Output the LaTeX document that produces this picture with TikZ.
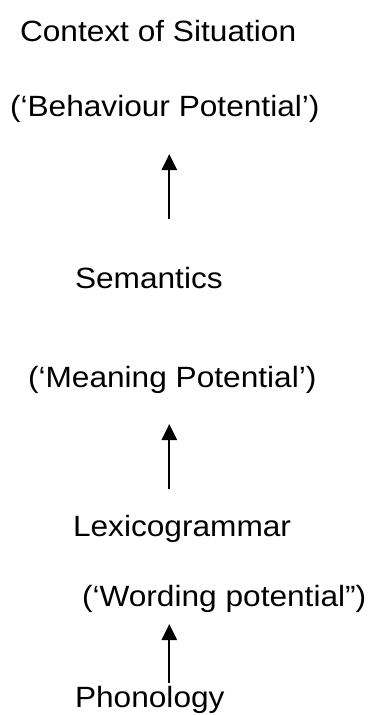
\documentclass[tikz,border=0pt]{standalone}
\usepackage{fontspec}
\setmainfont[FakeStretch=1.08]{Liberation Sans}
\usetikzlibrary{arrows.meta}
\tikzset{
  lbl/.style={anchor=base west, inner sep=0pt, outer sep=0pt, font=\fontsize{29.3}{35}\selectfont},
  uparrow/.style={line width=2.3pt, -{Triangle[length=16pt,width=15pt]}}
}
\begin{document}
\begin{tikzpicture}[x=1pt,y=1pt]
\useasboundingbox (0,0) rectangle (370,-715);
\node[lbl] (ctx) at (20,-41) {Context of Situation};
\node[lbl] (beh) at (10,-116) {(‘Behaviour Potential’)};
\node[lbl] (sem) at (75,-288.5) {Semantics};
\node[lbl] (mea) at (28,-387.5) {(‘Meaning Potential’)};
\node[lbl] (lex) at (73,-536) {Lexicogrammar};
\node[lbl] (wor) at (82,-606.5) {(‘Wording potential”)};
\node[lbl] (pho) at (75,-707) {Phonology};
\coordinate (a1s) at (169.3,-219);
\coordinate (a1e) at (169.3,-154);
\coordinate (a2s) at (169.3,-489);
\coordinate (a2e) at (169.3,-424);
\coordinate (a3s) at (169.3,-683);
\coordinate (a3e) at (169.3,-624);
\draw[uparrow] (a1s) -- (a1e);
\draw[uparrow] (a2s) -- (a2e);
\draw[uparrow] (a3s) -- (a3e);
\end{tikzpicture}
\end{document}
